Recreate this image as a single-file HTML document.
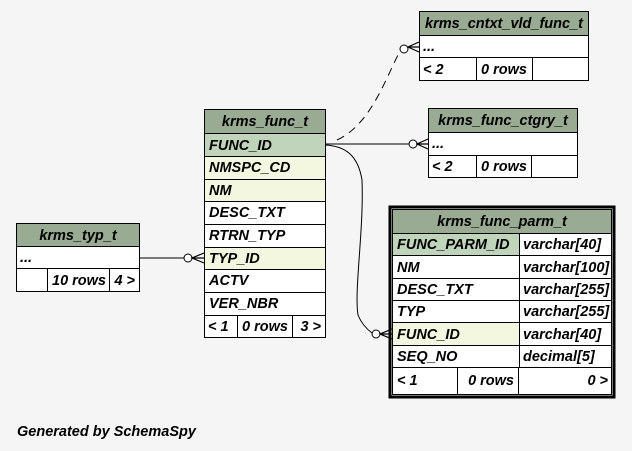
<!DOCTYPE html>
<html><head><meta charset="utf-8"><style>
body{margin:0;background:#f5f5f5}
svg{display:block}
text{font-family:"Liberation Sans",Arial,sans-serif;font-weight:bold;font-style:italic;font-size:14.5px;fill:#000}
.h{fill:#9aab94}.pk{fill:#bfd4bb}.fk{fill:#f4f7e0}.w{fill:#fff}
rect.c{stroke:#000;stroke-width:1}
</style></head><body>
<svg width="632" height="451" viewBox="0 0 632 451">
<rect x="0" y="0" width="632" height="451" fill="#f5f5f5" stroke="none"/>
<g fill="none" stroke="#000" stroke-width="1">
<path d="M337,140 C370,125 385,80 399,53" stroke-dasharray="8,6"/>
<path d="M325,144 L409,144"/>
<path d="M325,145 C345,146 358,155 362,180 C364,230 354,290 358,315 C362,325 368,330 372,333"/>
<path d="M139,258 L187,258"/>
</g>
<g fill="#fff" stroke="#000" stroke-width="1">
<circle cx="404" cy="49" r="4"/>
<circle cx="413" cy="144" r="4"/>
<circle cx="376" cy="334" r="4"/>
<circle cx="188" cy="258" r="4"/>
</g>
<g fill="none" stroke="#000" stroke-width="1.2">
<path d="M419,42 L408,47 L419,52 M408,47 L419,47"/>
<path d="M428,139 L417,144 L428,149 M417,144 L428,144"/>
<path d="M392,329 L380,334 L392,339 M380,334 L392,334"/>
<path d="M204,253 L192,258 L204,263 M192,258 L204,258"/>
</g>

<rect class="c h" x="419.5" y="11.5" width="169" height="24"/>
<text x="504" y="28" text-anchor="middle">krms_cntxt_vld_func_t</text>
<rect class="c w" x="419.5" y="35.5" width="169" height="22"/>
<text x="423" y="51">...</text>
<rect class="c w" x="419.5" y="57.5" width="57" height="23"/>
<rect class="c w" x="476.5" y="57.5" width="56" height="23"/>
<rect class="c w" x="532.5" y="57.5" width="56" height="23"/>
<text x="423" y="74">&lt; 2</text><text x="481" y="74">0 rows</text>

<rect class="c h" x="428.5" y="108.5" width="149" height="24"/>
<text x="503" y="125" text-anchor="middle">krms_func_ctgry_t</text>
<rect class="c w" x="428.5" y="132.5" width="149" height="23"/>
<text x="432" y="148">...</text>
<rect class="c w" x="428.5" y="155.5" width="48" height="22"/>
<rect class="c w" x="476.5" y="155.5" width="55" height="22"/>
<rect class="c w" x="531.5" y="155.5" width="46" height="22"/>
<text x="432" y="171">&lt; 2</text><text x="481" y="171">0 rows</text>

<rect class="c h" x="204.5" y="109.5" width="121" height="24"/>
<text x="265" y="126" text-anchor="middle">krms_func_t</text>
<rect class="c pk" x="204.5" y="133.5" width="121" height="23"/><text x="209" y="150">FUNC_ID</text>
<rect class="c fk" x="204.5" y="156.5" width="121" height="23"/><text x="209" y="172">NMSPC_CD</text>
<rect class="c fk" x="204.5" y="179.5" width="121" height="22"/><text x="209" y="195">NM</text>
<rect class="c w" x="204.5" y="201.5" width="121" height="23"/><text x="209" y="217">DESC_TXT</text>
<rect class="c w" x="204.5" y="224.5" width="121" height="23"/><text x="209" y="240">RTRN_TYP</text>
<rect class="c fk" x="204.5" y="247.5" width="121" height="22"/><text x="209" y="263">TYP_ID</text>
<rect class="c w" x="204.5" y="269.5" width="121" height="23"/><text x="209" y="285">ACTV</text>
<rect class="c w" x="204.5" y="292.5" width="121" height="23"/><text x="209" y="308">VER_NBR</text>
<rect class="c w" x="204.5" y="315.5" width="33" height="22"/>
<rect class="c w" x="237.5" y="315.5" width="55" height="22"/>
<rect class="c w" x="292.5" y="315.5" width="33" height="22"/>
<text x="208" y="331">&lt; 1</text><text x="242" y="331">0 rows</text><text x="321" y="331" text-anchor="end">3 &gt;</text>

<rect class="c h" x="16.5" y="223.5" width="123" height="23"/>
<text x="78" y="240" text-anchor="middle">krms_typ_t</text>
<rect class="c w" x="16.5" y="246.5" width="123" height="22"/>
<text x="20" y="262">...</text>
<rect class="c w" x="16.5" y="268.5" width="31" height="23"/>
<rect class="c w" x="47.5" y="268.5" width="62" height="23"/>
<rect class="c w" x="109.5" y="268.5" width="30" height="23"/>
<text x="106" y="285" text-anchor="end">10 rows</text><text x="135" y="285" text-anchor="end">4 &gt;</text>

<rect x="390" y="207" width="224" height="190" fill="none" stroke="#000" stroke-width="3"/>
<rect class="c h" x="392.5" y="209.5" width="219" height="24"/>
<text x="502" y="226" text-anchor="middle">krms_func_parm_t</text>
<rect class="c pk" x="392.5" y="233.5" width="127" height="22"/><rect class="c w" x="519.5" y="233.5" width="92" height="22"/>
<text x="397" y="249">FUNC_PARM_ID</text><text x="523" y="249">varchar[40]</text>
<rect class="c w" x="392.5" y="255.5" width="127" height="23"/><rect class="c w" x="519.5" y="255.5" width="92" height="23"/>
<text x="397" y="272">NM</text><text x="523" y="272">varchar[100]</text>
<rect class="c w" x="392.5" y="278.5" width="127" height="22"/><rect class="c w" x="519.5" y="278.5" width="92" height="22"/>
<text x="397" y="294">DESC_TXT</text><text x="523" y="294">varchar[255]</text>
<rect class="c w" x="392.5" y="300.5" width="127" height="22"/><rect class="c w" x="519.5" y="300.5" width="92" height="22"/>
<text x="397" y="316">TYP</text><text x="523" y="316">varchar[255]</text>
<rect class="c fk" x="392.5" y="322.5" width="127" height="23"/><rect class="c w" x="519.5" y="322.5" width="92" height="23"/>
<text x="397" y="339">FUNC_ID</text><text x="523" y="339">varchar[40]</text>
<rect class="c w" x="392.5" y="345.5" width="127" height="22"/><rect class="c w" x="519.5" y="345.5" width="92" height="22"/>
<text x="397" y="361">SEQ_NO</text><text x="523" y="361">decimal[5]</text>
<rect class="c w" x="392.5" y="367.5" width="65" height="27"/>
<rect class="c w" x="457.5" y="367.5" width="61" height="27"/>
<rect class="c w" x="518.5" y="367.5" width="93" height="27"/>
<text x="397" y="385">&lt; 1</text><text x="514" y="385" text-anchor="end">0 rows</text><text x="608" y="385" text-anchor="end">0 &gt;</text>

<text x="17" y="436">Generated by SchemaSpy</text>
</svg>
</body></html>
